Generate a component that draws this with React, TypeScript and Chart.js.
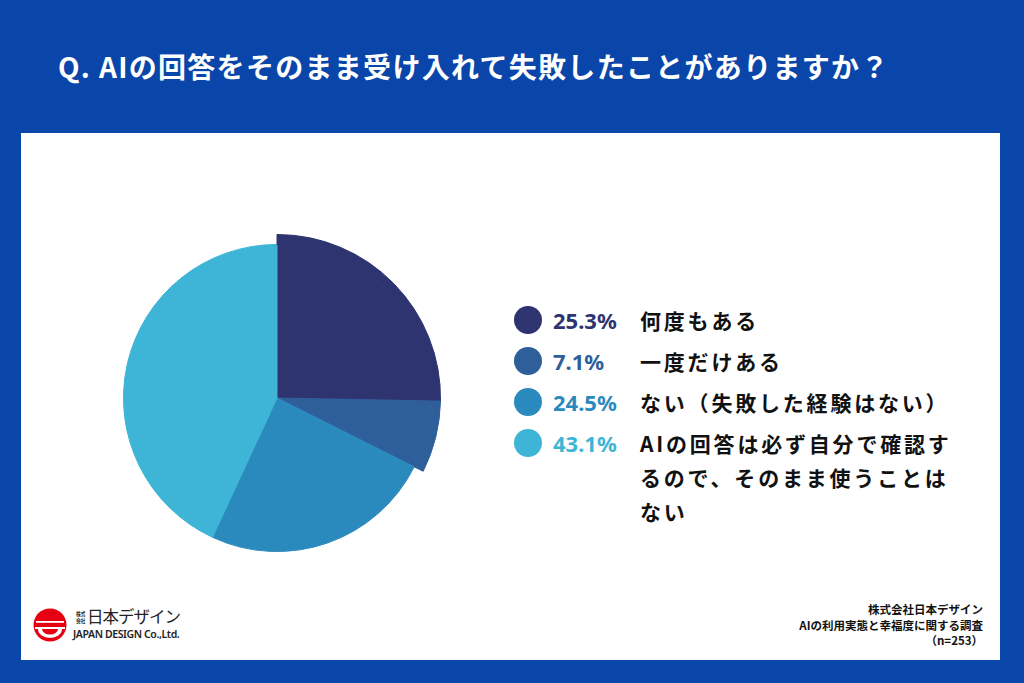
import React, { useEffect, useRef } from "react";
import { Chart, registerables } from "chart.js";

Chart.register(...registerables);

// ---- data ----
const categories = [
  "何度もある",
  "一度だけある",
  "ない（失敗した経験はない）",
  "AIの回答は必ず自分で確認するので、そのまま使うことはない",
];
const values = [25.3, 7.1, 24.5, 43.1];
const percentLabels = ["25.3%", "7.1%", "24.5%", "43.1%"];
const title = "Q. AIの回答をそのまま受け入れて失敗したことがありますか？";
const sourceLines = ["株式会社日本デザイン", "AIの利用実態と幸福度に関する調査", "（n=253）"];

// ---- styles ----
const colors = ["#2e3470", "#2e5f9b", "#2b8abd", "#3eb5d6"];
const raisedSlices = [true, true, false, false];
const BLUE = "#0a46a9";
const JP = '"Noto Sans CJK JP", "Noto Sans", sans-serif';

function PieChart() {
  const ref = useRef<HTMLCanvasElement | null>(null);
  useEffect(() => {
    if (!ref.current) return;
    const chart = new Chart(ref.current, {
      type: "pie",
      data: {
        labels: categories,
        datasets: [
          {
            data: values,
            backgroundColor: colors.map((c, i) => (raisedSlices[i] ? c : "rgba(0,0,0,0)")),
            borderColor: colors.map((c, i) => (raisedSlices[i] ? c : "rgba(0,0,0,0)")),
            borderWidth: raisedSlices.map((r) => (r ? 1 : 0)),
            weight: 10,
          } as any,
          {
            data: values,
            backgroundColor: colors,
            borderColor: colors,
            borderWidth: 1,
            weight: 154,
          } as any,
        ],
      },
      options: {
        animation: false,
        responsive: true,
        maintainAspectRatio: false,
        layout: { padding: 6 },
        plugins: {
          legend: { display: false },
          tooltip: { enabled: false },
        },
        events: [],
      },
    });
    return () => chart.destroy();
  }, []);
  return <canvas ref={ref} />;
}

function Logo() {
  return (
    <div style={{ position: "absolute", left: 32, top: 607 }}>
      <svg width="36" height="36" viewBox="-18 -18 36 36" style={{ position: "absolute", left: 0, top: 0 }}>
        <circle cx="0" cy="0" r="16.5" fill="#e60012" />
        <rect x="-14" y="-4" width="28" height="1.8" fill="#fff" />
        <rect x="-15" y="2" width="30" height="2" fill="#fff" />
        <path d="M -12 4 A 12 9 0 0 0 12 4 Z" fill="#fff" />
        <path d="M -8 4 A 8 5.5 0 0 0 8 4 Z" fill="#e60012" />
      </svg>
      {["株式", "会社"].map((t, i) => (
        <div
          key={i}
          style={{
            position: "absolute",
            left: 44,
            top: 3 + i * 7,
            height: 7,
            fontFamily: JP,
            fontSize: 6,
            lineHeight: "7px",
            fontWeight: 700,
            color: "#333",
            whiteSpace: "nowrap",
            transform: "scaleX(0.8)",
            transformOrigin: "left center",
            overflow: "hidden",
          }}
        >
          {t}
        </div>
      ))}
      <div
        style={{
          position: "absolute",
          left: 55,
          top: 0,
          fontFamily: JP,
          fontSize: 16.5,
          lineHeight: "19px",
          color: "#222",
          whiteSpace: "nowrap",
          letterSpacing: "-1px",
        }}
      >
        日本デザイン
      </div>
      <div
        style={{
          position: "absolute",
          left: 41,
          top: 21,
          fontFamily: '"Noto Sans", sans-serif',
          fontSize: 10.5,
          lineHeight: "13px",
          fontWeight: 600,
          color: "#222",
          whiteSpace: "nowrap",
          letterSpacing: "-0.4px",
        }}
      >
        JAPAN DESIGN Co.,Ltd.
      </div>
    </div>
  );
}

export default function App() {
  useEffect(() => {
    document.body.style.margin = "0";
  }, []);
  return (
    <div
      style={{
        position: "absolute",
        left: 0,
        top: 0,
        width: 1024,
        height: 683,
        background: BLUE,
        overflow: "hidden",
        fontFamily: JP,
      }}
    >
      <div
        style={{
          position: "absolute",
          left: 58,
          top: 46,
          color: "#fff",
          fontSize: 28,
          fontWeight: 700,
          lineHeight: "40px",
          whiteSpace: "nowrap",
          letterSpacing: "1.3px",
        }}
      >
        {title}
      </div>
      <div
        style={{
          position: "absolute",
          left: 21,
          top: 133,
          width: 979,
          height: 527,
          background: "#fff",
        }}
      />
      <div style={{ position: "absolute", left: 107, top: 228, width: 340, height: 340 }}>
        <PieChart />
      </div>
      {categories.map((cat, i) => (
        <div key={i} style={{ position: "absolute", left: 514, top: 320 + i * 41 - 17 }}>
          <div
            style={{
              position: "absolute",
              left: 0,
              top: 3,
              width: 28,
              height: 28,
              borderRadius: "50%",
              background: colors[i],
            }}
          />
          <div
            style={{
              position: "absolute",
              left: 39,
              top: 0,
              fontSize: 22,
              lineHeight: "34px",
              fontWeight: 700,
              color: colors[i],
              whiteSpace: "nowrap",
              fontFamily: '"Noto Sans", sans-serif',
            }}
          >
            {percentLabels[i]}
          </div>
          <div
            style={{
              position: "absolute",
              left: 126,
              top: 0,
              width: 322,
              fontSize: 21,
              lineHeight: "34px",
              fontWeight: 700,
              letterSpacing: "2.8px",
              color: "#111",
            }}
          >
            {cat}
          </div>
        </div>
      ))}
      <div
        style={{
          position: "absolute",
          right: 1024 - 983,
          top: 602,
          textAlign: "right",
          fontSize: 11.5,
          lineHeight: "15.5px",
          fontWeight: 700,
          color: "#111",
        }}
      >
        {sourceLines.map((l, i) => (
          <div key={i}>{l}</div>
        ))}
      </div>
      <Logo />
    </div>
  );
}
